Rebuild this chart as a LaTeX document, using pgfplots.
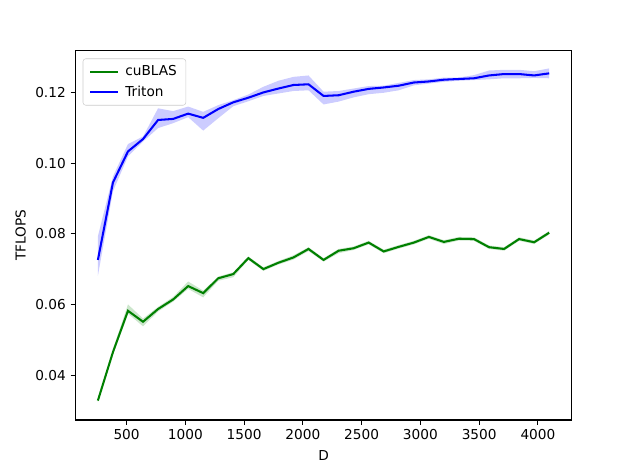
\documentclass[border=0pt]{standalone}
\usepackage{fontspec}
\setmainfont{DejaVu Sans}
\usepackage{pgfplots}
\usepackage{pgfplotstable}
\pgfplotsset{compat=1.18}
\usepgfplotslibrary{fillbetween}
\definecolor{mgreen}{HTML}{008000}
\definecolor{mblue}{HTML}{0000FF}
\pgfplotstableread{
x g glo ghi t tlo thi
256 0.0328 0.0323 0.0333 0.0726 0.0681 0.0793
384 0.0465 0.0458 0.0472 0.0945 0.0920 0.0962
512 0.0582 0.0574 0.0600 0.1033 0.1019 0.1054
640 0.0551 0.0538 0.0560 0.1068 0.1061 0.1075
768 0.0587 0.0580 0.0593 0.1122 0.1099 0.1155
896 0.0614 0.0608 0.0621 0.1125 0.1113 0.1147
1024 0.0652 0.0644 0.0665 0.1140 0.1130 0.1160
1152 0.0632 0.0620 0.0639 0.1128 0.1092 0.1145
1280 0.0674 0.0667 0.0679 0.1153 0.1127 0.1164
1408 0.0686 0.0677 0.0691 0.1172 0.1161 0.1178
1536 0.0731 0.0726 0.0736 0.1185 0.1175 0.1194
1664 0.0700 0.0695 0.0705 0.1200 0.1190 0.1216
1792 0.0718 0.0713 0.0723 0.1211 0.1197 0.1233
1920 0.0733 0.0727 0.0739 0.1221 0.1204 0.1244
2048 0.0757 0.0751 0.0762 0.1223 0.1206 0.1248
2176 0.0726 0.0721 0.0731 0.1190 0.1166 0.1202
2304 0.0752 0.0745 0.0757 0.1192 0.1174 0.1204
2432 0.0759 0.0754 0.0764 0.1202 0.1186 0.1211
2560 0.0775 0.0770 0.0780 0.1210 0.1195 0.1218
2688 0.0750 0.0745 0.0755 0.1214 0.1199 0.1219
2816 0.0763 0.0758 0.0768 0.1219 0.1206 0.1227
2944 0.0775 0.0770 0.0780 0.1228 0.1220 0.1235
3072 0.0791 0.0786 0.0796 0.1231 0.1225 0.1237
3200 0.0777 0.0771 0.0782 0.1236 0.1230 0.1242
3328 0.0786 0.0781 0.0791 0.1238 0.1233 0.1242
3456 0.0785 0.0780 0.0790 0.1240 0.1235 0.1249
3584 0.0762 0.0757 0.0767 0.1248 0.1237 0.1262
3712 0.0757 0.0752 0.0762 0.1252 0.1240 0.1264
3840 0.0785 0.0780 0.0790 0.1252 0.1240 0.1264
3968 0.0776 0.0771 0.0781 0.1248 0.1241 0.1260
4096 0.0803 0.0798 0.0808 0.1254 0.1240 0.1268
}\data
\begin{document}
\begin{tikzpicture}
\begin{axis}[
  scale only axis,
  width=363.1pt, height=270.1pt,
  xmin=64, xmax=4288,
  ymin=0.0273, ymax=0.1318,
  xtick={500,1000,...,4000},
  ytick={0.04,0.06,0.08,0.10,0.12},
  yticklabel style={/pgf/number format/.cd, fixed, fixed zerofill, precision=2},
  xticklabel style={/pgf/number format/.cd, 1000 sep={}},
  /pgf/number format/assume math mode=true,
  scaled y ticks=false,
  tick align=outside,
  xtick pos=lower, ytick pos=left,
  major tick length=3.5pt,
  major tick style={line width=0.8pt, black},
  axis line style={line width=0.8pt},
  tick label style={font=\fontsize{10}{12}\selectfont},
  label style={font=\fontsize{10}{12}\selectfont},
  xlabel={D}, ylabel={TFLOPS},
  xlabel style={yshift=-1pt},
  ylabel style={yshift=0pt},
  legend cell align=left,
  legend style={at={(0.0149,0.979)}, anchor=north west, draw=black!20, rounded corners=2pt,
    fill=white, fill opacity=0.8, text opacity=1, inner xsep=4.5pt, inner ysep=3pt,
    font=\fontsize{10}{12}\selectfont, row sep=2pt, column sep=3pt},
  legend image code/.code={\draw[#1, line width=1.5pt] (0pt,0pt) -- (20pt,0pt);},
]
\addplot[name path=gl, draw=none, forget plot] table[x=x, y=glo] {\data};
\addplot[name path=gh, draw=none, forget plot] table[x=x, y=ghi] {\data};
\addplot[mgreen, fill opacity=0.2, draw=none, forget plot] fill between[of=gl and gh];
\addplot[name path=tl, draw=none, forget plot] table[x=x, y=tlo] {\data};
\addplot[name path=th, draw=none, forget plot] table[x=x, y=thi] {\data};
\addplot[mblue, fill opacity=0.2, draw=none, forget plot] fill between[of=tl and th];
\addplot[mgreen, line width=1.5pt] table[x=x, y=g] {\data};
\addlegendentry{cuBLAS}
\addplot[mblue, line width=1.5pt] table[x=x, y=t] {\data};
\addlegendentry{Triton}
\end{axis}
\path[use as bounding box] (-55.1pt,-35.8pt) rectangle (405.7pt,307.2pt);
\end{tikzpicture}
\end{document}
